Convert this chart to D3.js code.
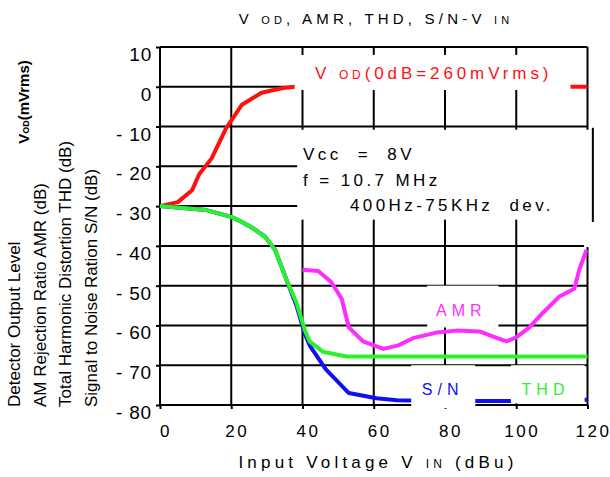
<!DOCTYPE html>
<html>
<head>
<meta charset="utf-8">
<script src="https://cdn.jsdelivr.net/npm/d3@7"></script>
<style>
  body { margin: 0; background: #fff; }
  svg { font-family: "Liberation Sans", Arial, sans-serif; }
</style>
</head>
<body>
<div id="chart"></div>
<script>
// axis ticks
const xTicks = [0, 20, 40, 60, 80, 100, 120];
const yTicks = [10, 0, -10, -20, -30, -40, -50, -60, -70, -80];

// curves: [Vin dBu, level dB]
const vod = [[0, -30], [5, -29], [9, -26], [11, -22], [14.5, -18], [18.5, -10.5],
  [23, -4.5], [28.5, -1.5], [34.5, -0.3], [38, 0], [120, 0]];
const sn = [[0, -30], [13, -31], [20, -32.7], [23, -34], [26, -35.5], [29.5, -37.7],
  [32.3, -41], [35.5, -48.5], [38.3, -55], [40.6, -62], [42, -65], [46.5, -71],
  [53, -77], [60.8, -78.3], [66.5, -78.8], [80, -79], [100, -79], [120, -78.7]];
const thd = [[0, -30], [13, -31], [20, -32.7], [23, -34], [26, -35.5], [29.5, -37.7],
  [32.3, -41], [35.5, -48.5], [38.3, -54.3], [40.6, -61], [42, -64], [45.7, -66.6],
  [52.3, -67.8], [120, -67.8]];
const amr = [[40, -46], [44.4, -46.3], [48, -49], [51, -53.3], [53, -60.5], [57, -64],
  [62.7, -65.9], [66.9, -65], [71, -63.2], [77.6, -61.8], [83.2, -61.3], [89.7, -61.5],
  [93.5, -62.8], [97.3, -64], [100, -63], [103.7, -60.5], [107.5, -56.8], [112, -52.8],
  [116.3, -50.8], [117.7, -46], [119.7, -41]];

const width = 610, height = 477;
const margin = {top: 47, right: 22, bottom: 72, left: 160};

const svg = d3.select("#chart").append("svg")
  .attr("width", width)
  .attr("height", height);

const x = d3.scaleLinear().domain([0, 120]).range([margin.left, width - margin.right - 0.5]);
const y = d3.scaleLinear().domain([10, -80]).range([margin.top, height - margin.bottom]);

// grid
const grid = svg.append("g").attr("stroke", "#000").attr("stroke-width", 2);
grid.selectAll(".vl").data(xTicks).enter().append("line")
  .attr("x1", d => x(d)).attr("x2", d => x(d))
  .attr("y1", y(10)).attr("y2", y(-80));
grid.selectAll(".hl").data(yTicks).enter().append("line")
  .attr("x1", x(0)).attr("x2", x(120))
  .attr("y1", d => y(d)).attr("y2", d => y(d));

// small outside ticks
svg.append("g")
  .attr("transform", `translate(${x(0)},0)`)
  .call(d3.axisLeft(y).tickValues(yTicks).tickSize(4).tickFormat(""))
  .call(g => g.select(".domain").remove())
  .selectAll("line").attr("stroke-width", 2);
svg.append("g")
  .attr("transform", `translate(0,${y(-80)})`)
  .call(d3.axisBottom(x).tickValues(xTicks).tickSize(4).tickFormat(""))
  .call(g => g.select(".domain").remove())
  .selectAll("line").attr("stroke-width", 2);

// curves
const line = d3.line().x(d => x(d[0])).y(d => y(d[1])).curve(d3.curveLinear);
const curves = [
  {data: vod, color: "#ff1010"},
  {data: sn, color: "#1010f0"},
  {data: thd, color: "#2cf02c"},
  {data: amr, color: "#ff2cff"}
];
svg.selectAll(".curve").data(curves).enter().append("path")
  .attr("class", "curve")
  .attr("d", d => line(d.data))
  .attr("fill", "none")
  .attr("stroke", d => d.color)
  .attr("stroke-width", 4)
  .attr("stroke-linejoin", "round");

// white label boxes pasted over the plot (as in the scanned datasheet)
const boxes = [
  [37.8, 8, 115.2, -0.8],
  [38.5, -10.8, 121.5, -33.4],
  [119, -33, 121, -40.3],
  [75, -50, 95, -60.5],
  [70.5, -70, 88.5, -80.8],
  [98.5, -70, 119.2, -79.6]
];
svg.selectAll(".box").data(boxes).enter().append("rect")
  .attr("x", d => x(d[0])).attr("y", d => y(d[1]))
  .attr("width", d => x(d[2]) - x(d[0]))
  .attr("height", d => y(d[3]) - y(d[1]))
  .attr("fill", "#fff");
svg.append("line")
  .attr("x1", x(121.5)).attr("x2", x(121.5))
  .attr("y1", y(-10.3)).attr("y2", y(-34))
  .attr("stroke", "#000").attr("stroke-width", 2);

// tick labels
svg.append("g").attr("font-size", 19).attr("letter-spacing", 0.8)
  .selectAll("text").data(yTicks).enter().append("text")
  .attr("x", x(0) - 8).attr("y", d => y(d) + 14)
  .attr("text-anchor", "end")
  .text(d => d < 0 ? "- " + Math.abs(d) : d);
svg.append("g").attr("font-size", 17).attr("letter-spacing", 2.5)
  .selectAll("text").data(xTicks).enter().append("text")
  .attr("x", d => x(d) + 6).attr("y", y(-80) + 32)
  .attr("text-anchor", "middle")
  .text(d => d);

// title
const title = svg.append("text")
  .attr("x", 376).attr("y", 24)
  .attr("text-anchor", "middle")
  .attr("font-size", 15).attr("letter-spacing", 4.2);
title.append("tspan").text("V ");
title.append("tspan").attr("font-size", 11).text("OD");
title.append("tspan").text(", AMR, THD, S/N-V ");
title.append("tspan").attr("font-size", 11).text("IN");

// x axis title
const xt = svg.append("text")
  .attr("x", 378).attr("y", 468)
  .attr("text-anchor", "middle")
  .attr("font-size", 17).attr("letter-spacing", 4.2);
xt.append("tspan").text("Input Voltage V ");
xt.append("tspan").attr("font-size", 12).text("IN");
xt.append("tspan").text(" (dBu)");

// y axis titles (rotated)
const yt = svg.append("text")
  .attr("transform", "translate(29,102) rotate(-90)")
  .attr("text-anchor", "middle")
  .attr("font-size", 15).attr("font-weight", "bold");
yt.append("tspan").text("V");
yt.append("tspan").attr("font-size", 9).text("OD");
yt.append("tspan").text("(mVrms)");

const yLines = ["Detector Output Level", "AM Rejection Ratio AMR (dB)",
  "Total Harmonic Distortion THD (dB)", "Signal to Noise Ration S/N (dB)"];
svg.selectAll(".ylab").data(yLines).enter().append("text")
  .attr("transform", (d, i) => `translate(${20 + i * 25.5},407) rotate(-90)`)
  .attr("font-size", 17)
  .text(d => d);

// in-plot annotations
const vodLabel = svg.append("text")
  .attr("x", 315).attr("y", 79)
  .attr("font-size", 17).attr("letter-spacing", 3.9).attr("fill", "#ff1010");
vodLabel.append("tspan").text("V ");
vodLabel.append("tspan").attr("font-size", 12).text("OD");
vodLabel.append("tspan").text("(0dB=260mVrms)");

const cond = ["Vcc  =  8V", "f = 10.7 MHz", "400Hz-75KHz  dev."];
svg.selectAll(".cond").data(cond).enter().append("text")
  .attr("x", (d, i) => i === 2 ? 350 : 303)
  .attr("y", (d, i) => 160 + i * 25.5)
  .attr("font-size", 17).attr("letter-spacing", 3.4)
  .attr("xml:space", "preserve")
  .text(d => d);

const tags = [
  {t: "AMR", v: [77.5, -57.7], c: "#ff2cff"},
  {t: "S/N", v: [73.5, -77.5], c: "#1010f0"},
  {t: "THD", v: [101.5, -77.5], c: "#2cf02c"}
];
svg.selectAll(".tag").data(tags).enter().append("text")
  .attr("x", d => x(d.v[0])).attr("y", d => y(d.v[1]))
  .attr("font-size", 16).attr("letter-spacing", 5)
  .attr("fill", d => d.c)
  .text(d => d.t);
</script>
</body>
</html>
